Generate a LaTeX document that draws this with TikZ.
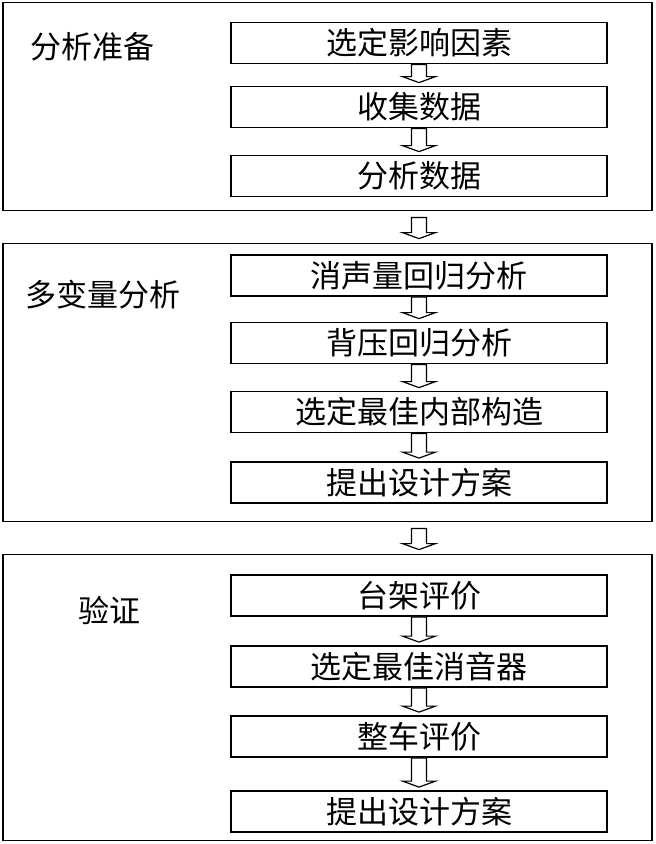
\documentclass[tikz,border=0pt]{standalone}
\usepackage{fontspec}
\usetikzlibrary{calc}
\newfontfamily\cjk{Noto Sans CJK SC}

\tikzset{
  frame/.style={draw, line width=1.8pt, minimum width=649pt, minimum height=#1, inner sep=0pt},
  stepbox/.style={draw, line width=1.8pt, minimum width=376pt, minimum height=41pt,
                  inner sep=0pt, font=\cjk\fontsize{31}{34}\selectfont},
  phase/.style={anchor=west, inner sep=0pt, font=\cjk\fontsize{31}{34}\selectfont},
  fatarrow/.style={draw, line width=1.2pt, fill=white, line join=miter}
}
% block arrow from a top point to a bottom point
\newcommand{\downarrowbox}[2]{%
  \path #1 coordinate (top) #2 coordinate (bot);
  \draw[fatarrow] ($(top)+(-7.5,0)$) -- ($(bot)+(-7.5,-9)$) -- ($(bot)+(-16.5,-9)$)
    -- ($(bot)+(0,-3)$) -- ($(bot)+(16.5,-9)$) -- ($(bot)+(7.5,-9)$) -- ($(top)+(7.5,0)$) -- cycle;}

\begin{document}
\begin{tikzpicture}[x=1pt,y=-1pt]
  \useasboundingbox (0,0) rectangle (656,844);

  % outer frames
  \node[frame=208pt] (prep) at (327.5,106.5) {};
  \node[frame=278pt] (multi) at (327.5,382.5) {};
  \node[frame=286pt] (verify) at (327.5,697.5) {};

  \node[phase] (prepname) at (30,47) {分析准备};
  \node[phase] (multiname) at (25,295) {多变量分析};
  \node[phase] (verifyname) at (78,610) {验证};

  % steps
  \node[stepbox] (factor) at (419,43) {选定影响因素};
  \node[stepbox] (collect) at (419,107) {收集数据};
  \node[stepbox] (analyse) at (419,176) {分析数据};

  \node[stepbox] (muffle) at (419,275.5) {消声量回归分析};
  \node[stepbox] (backp) at (419,343) {背压回归分析};
  \node[stepbox] (inner) at (419,412) {选定最佳内部构造};
  \node[stepbox] (design) at (419,482.5) {提出设计方案};

  \node[stepbox] (bench) at (419,595.5) {台架评价};
  \node[stepbox] (best) at (419,666.5) {选定最佳消音器};
  \node[stepbox] (vehicle) at (419,736.5) {整车评价};
  \node[stepbox] (final) at (419,811.5) {提出设计方案};

  % arrows
  \downarrowbox{(factor.south)}{(collect.north)}
  \downarrowbox{(collect.south)}{(analyse.north)}
  \downarrowbox{(muffle.south)}{(backp.north)}
  \downarrowbox{(backp.south)}{(inner.north)}
  \downarrowbox{(inner.south)}{(design.north)}
  \downarrowbox{(bench.south)}{(best.north)}
  \downarrowbox{(best.south)}{(vehicle.north)}
  \downarrowbox{(vehicle.south)}{(final.north)}

  \downarrowbox{($(prep.south -| analyse.south)+(0,6)$)}{($(multi.north -| muffle.north)+(0,-1)$)}
  \downarrowbox{($(multi.south -| design.south)+(0,6)$)}{($(verify.north -| bench.north)+(0,-1)$)}
\end{tikzpicture}
\end{document}
